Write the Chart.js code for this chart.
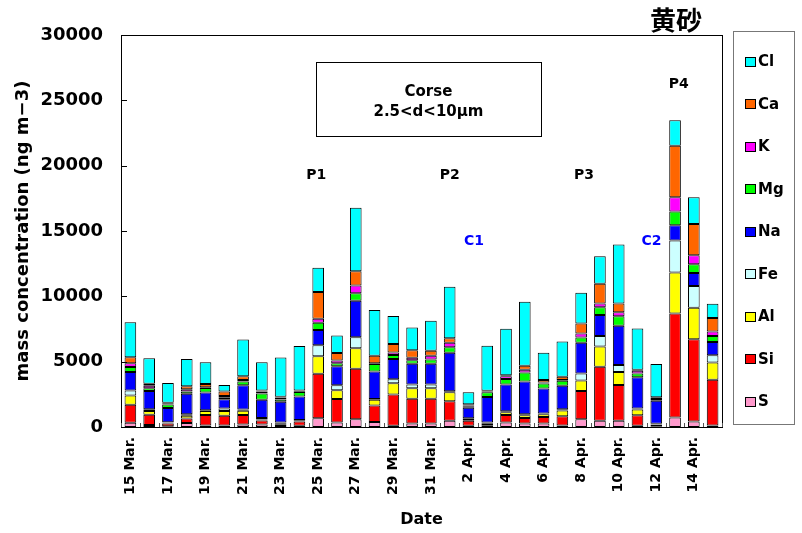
<!DOCTYPE html>
<html>
<head>
<meta charset="utf-8">
<script src="https://cdn.jsdelivr.net/npm/chart.js@4.4.0/dist/chart.umd.min.js"></script>
<style>
  body { margin: 0; background: #fff; }
</style>
</head>
<body>
<canvas id="ctx" width="802" height="533"></canvas>
<script>
const dates = ['15 Mar.', '16 Mar.', '17 Mar.', '18 Mar.', '19 Mar.', '20 Mar.', '21 Mar.', '22 Mar.',
  '23 Mar.', '24 Mar.', '25 Mar.', '26 Mar.', '27 Mar.', '28 Mar.', '29 Mar.', '30 Mar.', '31 Mar.',
  '1 Apr.', '2 Apr.', '3 Apr.', '4 Apr.', '5 Apr.', '6 Apr.', '7 Apr.', '8 Apr.', '9 Apr.', '10 Apr.',
  '11 Apr.', '12 Apr.', '13 Apr.', '14 Apr.', '15 Apr.']

// ng m-3, one value per day
const S  = [330,150,60,300,110,120,200,200,70,90,670,340,600,390,90,260,260,470,90,90,340,260,260,110,600,470,470,100,60,730,420,110]
const Si = [1380,780,200,360,800,750,720,300,150,330,3400,1800,3850,1250,2400,1900,1900,1500,380,160,570,420,500,720,2150,4150,2750,800,120,7950,6300,3500]
const Al = [700,300,60,200,320,350,320,80,60,60,1350,680,1580,440,850,800,800,680,140,50,210,210,210,440,800,1550,980,440,40,3150,2400,1320]
const Fe = [390,130,40,110,60,200,100,100,60,50,840,370,830,70,310,290,290,90,60,40,90,90,70,90,550,800,550,70,30,2450,1680,570]
const Na = [1400,1400,1100,1580,1350,700,1850,1400,1600,1800,1170,1450,2800,2100,1550,1600,1600,2950,800,1950,2050,2500,1900,1800,2350,1600,3000,2400,1750,1160,980,1000]
const Mg = [390,200,260,170,350,150,300,480,160,340,550,240,570,570,310,260,310,420,110,370,420,700,390,370,390,600,730,290,150,1060,680,470]
const K  = [290,200,60,170,60,100,100,160,160,60,310,200,600,60,190,190,290,340,70,60,210,210,70,70,310,290,310,210,60,1080,680,340]
const Ca = [450,150,80,220,250,350,300,80,60,60,2050,580,1090,580,650,570,390,340,90,60,70,290,190,240,780,1500,670,70,60,3950,2400,1030]
const Cl = [2680,1950,1500,2100,1650,500,2800,2150,3000,3400,1850,1350,4850,3500,2150,1750,2300,3950,920,3430,3550,4900,2100,2700,2350,2100,4500,3150,2550,1950,2050,1100]

const yTicks = [0, 5000, 10000, 15000, 20000, 25000, 30000]

// stacking order, bottom first
const elements = ['S', 'Si', 'Al', 'Fe', 'Na', 'Mg', 'K', 'Ca', 'Cl']
const series = [S, Si, Al, Fe, Na, Mg, K, Ca, Cl]
const colors = ['#FF99CC', '#FF0000', '#FFFF00', '#CCFFFF', '#0000FF', '#00FF00', '#FF00FF', '#FF6600', '#00FFFF']

const FONT = 'DejaVu Sans'

// event labels: [text, category index, value, colour]
const marks = [
  ['P1', 9.9, 19250, '#000'],
  ['P2', 17, 19250, '#000'],
  ['P3', 24.15, 19250, '#000'],
  ['P4', 29.2, 26230, '#000'],
  ['C1', 18.3, 14190, '#0000FF'],
  ['C2', 27.75, 14190, '#0000FF']
]

function line(c, x1, y1, x2, y2) {
  c.beginPath(); c.moveTo(x1, y1); c.lineTo(x2, y2); c.stroke()
}

const extras = {
  id: 'extras',
  afterDraw(chart) {
    const c = chart.ctx
    const a = chart.chartArea
    const x = chart.scales.x
    const y = chart.scales.y
    c.save()

    // frame round the plot
    c.strokeStyle = '#000'
    c.lineWidth = 1
    c.strokeRect(Math.round(a.left) + 0.5, Math.round(a.top) + 0.5, Math.round(a.right - a.left), Math.round(a.bottom - a.top))

    // inner ticks
    yTicks.forEach(v => {
      const py = Math.round(y.getPixelForValue(v)) + 0.5
      line(c, a.left, py, a.left + 6, py)
    })
    c.strokeStyle = '#555'
    for (let i = 0; i <= dates.length; i++) {
      const px = Math.round(x.getPixelForValue(i - 0.5)) + 0.5
      line(c, px, a.bottom, px, a.bottom - 4)
    }

    // text box
    const bl = x.getPixelForValue(9.88), br = x.getPixelForValue(21.86)
    const bt = y.getPixelForValue(27900), bb = y.getPixelForValue(22250)
    c.fillStyle = '#fff'
    c.fillRect(bl, bt, br - bl, bb - bt)
    c.strokeStyle = '#000'
    c.strokeRect(Math.round(bl) + 0.5, Math.round(bt) + 0.5, Math.round(br - bl), Math.round(bb - bt))
    c.fillStyle = '#000'
    c.textAlign = 'center'
    c.textBaseline = 'middle'
    c.font = 'bold 15px "' + FONT + '"'
    c.fillText('Corse', (bl + br) / 2, bt + 30)
    c.fillText('2.5<d<10μm', (bl + br) / 2, bt + 50)

    c.font = 'bold 14px "' + FONT + '"'
    marks.forEach(m => {
      c.fillStyle = m[3]
      c.fillText(m[0], x.getPixelForValue(m[1]), y.getPixelForValue(m[2]))
    })

    // title
    c.fillStyle = '#000'
    c.font = 'bold 26px "Noto Sans CJK JP"'
    c.fillText('黄砂', 676, 20)

    // legend
    const lx = 733, ly = 31, lw = 61, lh = 393
    c.strokeStyle = '#777'
    c.strokeRect(lx + 0.5, ly + 0.5, lw, lh)
    c.textAlign = 'left'
    c.font = 'bold 15px "' + FONT + '"'
    const ds = chart.data.datasets.slice().reverse()
    ds.forEach((d, i) => {
      const cy = 61.5 + i * 42.5
      c.fillStyle = d.backgroundColor
      c.fillRect(745, Math.round(cy - 5), 11, 10)
      c.strokeStyle = '#000'
      c.strokeRect(745.5, Math.round(cy - 5) + 0.5, 10, 9)
      c.fillStyle = '#000'
      c.fillText(d.label, 758, cy + 1)
    })
    c.restore()
  }
}

const chart = new Chart(document.getElementById('ctx'), {
  type: 'bar',
  data: {
    labels: dates,
    datasets: elements.map((el, i) => ({
      label: el,
      data: series[i],
      backgroundColor: colors[i],
      borderColor: '#000',
      borderWidth: 1,
      borderSkipped: false,
      barPercentage: 0.62,
      categoryPercentage: 1
    }))
  },
  options: {
    responsive: false,
    animation: false,
    layout: { padding: { top: 35, right: 80, left: 0, bottom: 0 } },
    plugins: {
      legend: { display: false },
      tooltip: { enabled: false }
    },
    scales: {
      x: {
        stacked: true,
        grid: { display: false, drawTicks: false },
        border: { display: false },
        ticks: {
          autoSkip: false,
          maxRotation: 90,
          minRotation: 90,
          padding: 10,
          color: '#000',
          font: { family: FONT, size: 14, weight: 'bold' },
          callback: function (v, i) { return i % 2 === 0 ? dates[i] : '' }
        },
        title: {
          display: true,
          text: 'Date',
          color: '#000',
          font: { family: FONT, size: 16, weight: 'bold' },
          padding: { top: 0, bottom: 4 }
        },
        afterFit: s => { s.height = 106 }
      },
      y: {
        stacked: true,
        min: 0,
        max: 30000,
        grid: { display: false, drawTicks: false },
        border: { display: false },
        afterBuildTicks: s => { s.ticks = yTicks.map(v => ({ value: v })) },
        ticks: {
          padding: 18,
          color: '#000',
          font: { family: FONT, size: 18, weight: 'bold' },
          callback: v => String(v)
        },
        title: {
          display: true,
          text: 'mass concentration (ng m−3)',
          color: '#000',
          font: { family: FONT, size: 18, weight: 'bold' },
          padding: { top: 13, bottom: 0 }
        },
        afterFit: s => { s.width = 121 }
      }
    }
  },
  plugins: [extras]
})
</script>
</body>
</html>
